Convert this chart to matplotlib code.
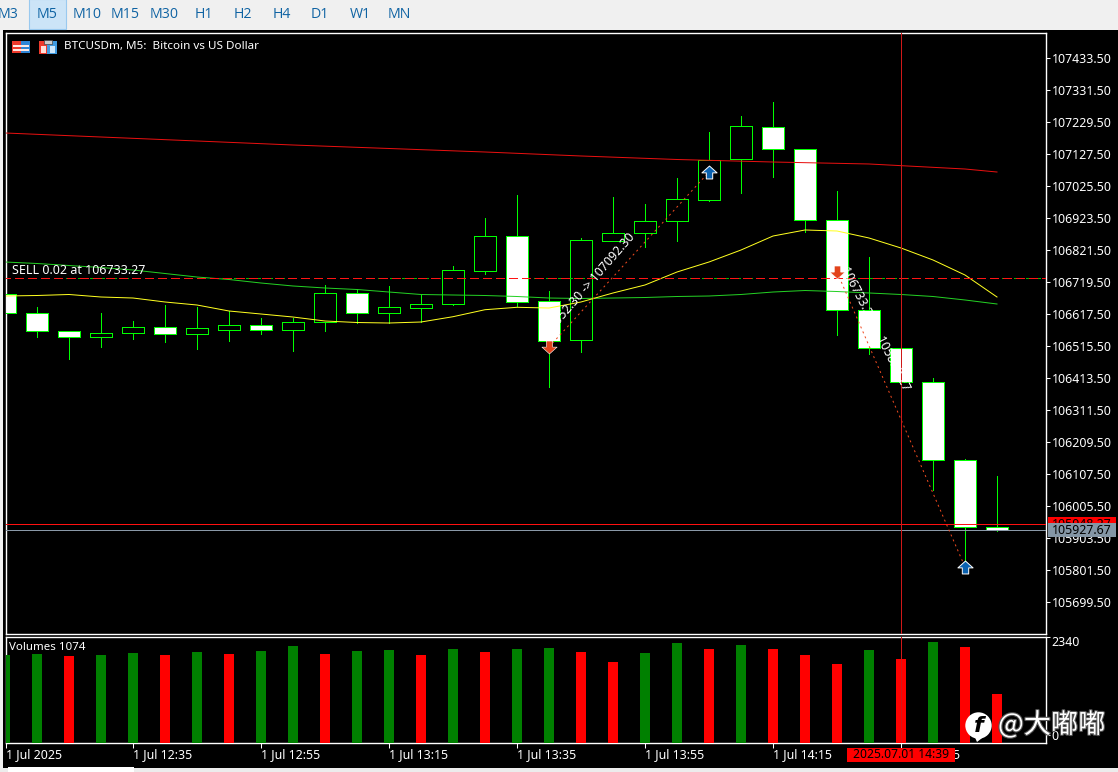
import matplotlib
matplotlib.use("Agg")
import matplotlib.pyplot as plt
from matplotlib.path import Path
from matplotlib.patches import Rectangle, Circle, Polygon
import matplotlib.patheffects as pe
import numpy as np

plt.rcParams['font.family'] = ['Noto Sans', 'DejaVu Sans']

# ---- data ----
opens = [106681.3, 106620.7, 106563.3, 106544.2, 106557.0, 106576.1, 106553.8, 106566.5,
         106582.5, 106566.5, 106592.0, 106684.5, 106620.7, 106636.6, 106649.4, 106754.6,
         106866.1, 106659.0, 106534.6, 106850.2, 106875.7, 106914.0, 106980.9, 107111.6,
         107213.6, 107143.5, 106917.1, 106630.3, 106509.1, 106400.8, 106152.1, 105938.6]
closes = [106620.7, 106563.3, 106544.2, 106557.0, 106576.1, 106553.8, 106572.9, 106582.5,
          106566.5, 106592.0, 106684.5, 106620.7, 106639.8, 106649.4, 106757.8, 106866.1,
          106655.8, 106531.4, 106853.4, 106875.7, 106914.0, 106984.1, 107108.4, 107216.8,
          107143.5, 106917.1, 106630.3, 106509.1, 106400.8, 106152.1, 105938.6, 105927.7]
highs = [106681.3, 106639.8, 106563.3, 106620.7, 106595.2, 106646.2, 106639.8, 106627.1,
         106604.8, 106604.8, 106710.0, 106697.2, 106706.8, 106678.1, 106770.5, 106923.5,
         106996.8, 106690.8, 106859.8, 106990.5, 106968.1, 107051.0, 107197.6, 107248.6,
         107293.3, 107143.5, 107009.6, 106799.2, 106509.1, 106413.5, 106155.4, 106101.1]
lows = [106620.7, 106544.2, 106474.1, 106512.4, 106537.8, 106528.3, 106506.0, 106531.4,
        106553.8, 106499.6, 106563.3, 106588.8, 106588.8, 106592.0, 106646.2, 106745.0,
        106643.0, 106384.8, 106496.4, 106850.2, 106831.1, 106850.2, 106977.7, 107003.2,
        107054.2, 106878.9, 106550.6, 106490.0, 106400.8, 106056.5, 105827.0, 105925.8]
volumes = [1943, 1965, 1921, 1943, 1987, 1943, 2009, 1965, 2031, 2142, 1965, 2031, 2053, 1943,
           2076, 2009, 2076, 2098, 2009, 1788, 1987, 2208, 2076, 2164, 2076, 1943, 1744, 2053,
           1855, 2230, 2120, 1074]
vol_colors = list("ggrggrgrggrggrgrggrrggrgrrrgrgrr")
ma_yellow = [106674.9, 106676.5, 106679.7, 106671.7, 106668.5, 106655.8, 106646.2, 106627.1,
             106617.5, 106607.9, 106595.2, 106590.4, 106588.8, 106592.0, 106608.9, 106631.2,
             106638.9, 106636.6, 106655.8, 106684.5, 106710.0, 106751.4, 106783.3, 106821.5,
             106866.1, 106885.3, 106882.1, 106859.8, 106827.9, 106789.7, 106741.8, 106671.7]
ma_green = [106783.3, 106778.5, 106772.1, 106765.7, 106757.8, 106746.6, 106735.4, 106727.5,
            106716.3, 106706.8, 106700.4, 106695.6, 106687.6, 106679.7, 106678.1, 106676.5,
            106673.3, 106668.5, 106666.9, 106668.5, 106670.1, 106673.3, 106674.9, 106679.7,
            106687.6, 106692.4, 106689.2, 106684.5, 106679.7, 106673.3, 106662.2, 106649.4]
ma_red_idx = [0, 3, 6, 9, 12, 15, 18, 21, 24, 27, 30, 31]
ma_red = [107194.5, 107181.7, 107169.0, 107156.2, 107145.1, 107133.9, 107121.2, 107110.0,
          107102.0, 107095.7, 107079.7, 107070.1]
price_ticks = [107433.5, 107331.5, 107229.5, 107127.5, 107025.5, 106923.5, 106821.5, 106719.5,
               106617.5, 106515.5, 106413.5, 106311.5, 106209.5, 106107.5, 106005.5, 105903.5,
               105801.5, 105699.5]
time_tick_idx = [0, 4, 8, 12, 16, 20, 24, 28]
time_labels = ["1 Jul 2025", "1 Jul 12:35", "1 Jul 12:55", "1 Jul 13:15", "1 Jul 13:35",
               "1 Jul 13:55", "1 Jul 14:15", "1 Jul 14:35"]
periods = ["M3", "M5", "M10", "M15", "M30", "H1", "H2", "H4", "D1", "W1", "MN"]
period_x = [8, 47, 87, 125, 164, 204, 243, 282, 320, 360, 399]
sell_price = 106733.27
bid_price = 105927.67
ask_price = 105946.6
trade1_idx = [17, 22]
trade1_price = [106512.4, 107070.1]
trade2_idx = [26, 30]
trade2_price = [106751.4, 105811.1]

W, H = 1118, 772
GREEN = "#00ff00"
FS = 8.9
THIN = 0.5
SLOPED = 0.72

fig = plt.figure(figsize=(W / 100, H / 100), dpi=100, facecolor="black")


def axpx(x0, y0, x1, y1, **kw):
    return fig.add_axes([x0 / W, 1 - y1 / H, (x1 - x0) / W, (y1 - y0) / H], **kw)


# chrome background
bg = axpx(0, 0, W, H, zorder=-1)
bg.set_xlim(0, W); bg.set_ylim(H, 0); bg.axis("off")
bg.add_patch(Rectangle((0, 0), W, 30, fc="#f0f0f0", ec="none"))
bg.add_patch(Rectangle((0, 0), 3, H, fc="#f0f0f0", ec="none"))
bg.add_patch(Rectangle((0, 768), W, 4, fc="#ececec", ec="none"))
bg.add_patch(Rectangle((8, 767), 126, 5, fc="white", ec="none"))
bg.add_patch(Rectangle((29, -1), 37, 29.5, fc="#cce4f7", ec="#99c9ef", lw=0.8))
for name, px in zip(periods, period_x):
    bg.text(px, 14, name, color="#0f63a3", fontsize=10.2, ha="center", va="center",
            family=["Open Sans", "DejaVu Sans"])

# panes
x_to_idx = lambda px: (px - 5) / 32
ax = axpx(5.5, 32.5, 1046, 634, facecolor="black")
vol = axpx(5.5, 637, 1046, 743, facecolor="black")
for a in (ax, vol):
    a.set_xlim(x_to_idx(5.5), x_to_idx(1046))
    for s in a.spines.values():
        s.set_color("white"); s.set_linewidth(1.0)
ax.set_ylim(107618.4 - 3.1875 * 634, 107618.4 - 3.1875 * 32.5)

idx = np.arange(len(opens))
opens_a, closes_a = np.array(opens), np.array(closes)
ax.vlines(idx, lows, highs, color=GREEN, lw=THIN, zorder=2, antialiased=False)
for i in idx:
    o, c = opens_a[i], closes_a[i]
    ax.bar(i, abs(c - o), bottom=min(o, c), width=0.6875,
           facecolor="white" if c < o else "black", edgecolor=GREEN, lw=THIN, zorder=3,
           antialiased=False)

# sloped lines stay antialiased: a one-pixel aliased diagonal comes out too heavy here
ax.plot(ma_red_idx, ma_red, color="#e81010", lw=SLOPED, zorder=4)
ax.plot(idx, ma_green, color="#24d024", lw=SLOPED, zorder=4)
ax.plot(idx, ma_yellow, color="#ffff20", lw=SLOPED, zorder=4)

# order lines
ax.axhline(sell_price, color="#00c000", lw=THIN, ls=(0, (4, 14)), zorder=4, antialiased=False)
ax.axhline(sell_price, color="#ff1414", lw=THIN, ls=(6, (12, 6)), zorder=4, antialiased=False)
ax.axhline(ask_price, color="#ff1010", lw=THIN, zorder=5, antialiased=False)
ax.axhline(bid_price, color="#8a99a8", lw=THIN, zorder=5, antialiased=False)
for a in (ax, vol):
    a.axvline(28, color="#d01818", lw=THIN, zorder=6, antialiased=False)

# trades
dot = (0, (2.0, 3.4))
ax.plot(trade1_idx, trade1_price, color="#f04a20", lw=SLOPED, ls=dot, zorder=5)
ax.plot(trade2_idx, trade2_price, color="#f04a20", lw=SLOPED, ls=dot, zorder=5)
down = Path([(-1, .05), (-.42, .05), (-.42, .85), (.42, .85), (.42, .05), (1, .05), (0, -.85), (-1, .05)], closed=True)
up = Path([(-1, -.05), (-.42, -.05), (-.42, -.85), (.42, -.85), (.42, -.05), (1, -.05), (0, .85), (-1, -.05)], closed=True)
ax.scatter([trade1_idx[0], trade2_idx[0]], [trade1_price[0], trade2_price[0]], marker=down, s=120,
           c="#e2431c", edgecolors="white", linewidths=0.4, zorder=7)
ax.scatter([trade1_idx[1], trade2_idx[1]], [trade1_price[1], trade2_price[1]], marker=up, s=120,
           c="#0b62b0", edgecolors="white", linewidths=0.7, zorder=7)
ax.text(x_to_idx(545), 107618.4 - 3.1875 * 341, "106552.30 -> 107092.30", color="white", fontsize=FS,
        rotation=49, rotation_mode="anchor", ha="left", va="baseline", zorder=6)
ax.text(x_to_idx(841), 107618.4 - 3.1875 * 269, "106733.27 -> 105830.27", color="white", fontsize=FS,
        rotation=-63, rotation_mode="anchor", ha="left", va="baseline", zorder=6)

ax.set_xticks([])
ax.yaxis.tick_right()
ax.set_yticks(price_ticks)
ax.set_yticklabels([f"{p:.2f}" for p in price_ticks], color="white", fontsize=FS)
ax.tick_params(axis="y", colors="white", length=3, width=0.75, pad=1)

# volumes
vol.bar(idx, volumes, width=10 / 32, color=["#008000" if c == "g" else "#ff0000" for c in vol_colors], zorder=3)
vol.set_ylim(0, 2340)
vol.yaxis.tick_right()
vol.set_yticks([2340, 177])
vol.set_yticklabels(["", "0"], color="white", fontsize=FS)
vol.tick_params(axis="y", colors="white", length=3, width=0.75, pad=1)
vol.set_xticks(time_tick_idx)
vol.set_xticklabels(time_labels, color="white", fontsize=FS, ha="left")
vol.tick_params(axis="x", colors="white", length=3.6, width=0.75, pad=0.3)

# overlay with labels, boxes and watermark
ov = axpx(0, 0, W, H, zorder=10)
ov.set_xlim(0, W); ov.set_ylim(H, 0); ov.axis("off"); ov.patch.set_alpha(0)
ov.text(1051, 643, "2340", color="white", fontsize=FS, ha="left", va="center")
ov.text(12, 271, f"SELL 0.02 at {sell_price:.2f}", color="white", fontsize=9.0, ha="left", va="center")
ov.text(64, 47, "BTCUSDm, M5:  Bitcoin vs US Dollar", color="white", fontsize=8.4, ha="left", va="center")
ov.text(9, 648, "Volumes 1074", color="white", fontsize=8.3, ha="left", va="center")

# title icons
ov.add_patch(Rectangle((12, 41), 9, 12, fc="#ee3a2c", ec="none"))
ov.add_patch(Rectangle((21, 41), 9, 12, fc="#2f86d6", ec="none"))
for yy in (44.5, 48.5):
    ov.add_patch(Rectangle((13, yy), 16, 2.5, fc="#ffe9e4", ec="none"))
ov.add_patch(Rectangle((38.5, 40.5), 8.5, 13, fc="#ee3a2c", ec="none"))
ov.add_patch(Rectangle((47, 40.5), 10, 13, fc="#3f9be0", ec="none"))
ov.add_patch(Rectangle((41, 46), 5, 7, fc="#ffe0da", ec="none"))
ov.add_patch(Rectangle((50, 46), 5, 7, fc="#cfe8fb", ec="none"))
ov.add_patch(Rectangle((44, 40), 8, 4, fc="#cccccc", ec="#444444", lw=0.5))

# price boxes
ov.add_patch(Rectangle((1048, 517), 68, 7, fc="#ff0000", ec="none"))
ov.text(1082, 525, f"{ask_price + 1.67:.2f}", color="black", fontsize=FS, ha="center", va="center", zorder=3,
        clip_on=True, clip_path=Rectangle((1048, 517), 68, 6.5, transform=ov.transData))
ov.add_patch(Rectangle((1048, 523), 68, 14, fc="#8496a5", ec="none", zorder=4))
ov.text(1082, 530, f"{bid_price:.2f}", color="black", fontsize=FS, ha="center", va="center", zorder=5)

# crosshair time box
ov.add_patch(Rectangle((847, 748), 108, 14, fc="#ff0000", ec="none"))
ov.text(901, 755, "2025.07.01 14:39", color="black", fontsize=8.7, ha="center", va="center")

# watermark
ov.add_patch(Polygon([(973, 733), (977, 742), (986, 735)], closed=True, fc="white", ec="none"))
ov.add_patch(Circle((978.5, 725.5), 13.2, fc="white", ec="none"))
ov.text(979, 726, "f", color="black", fontsize=16, fontweight="bold", style="italic", ha="center", va="center",
        family=["DejaVu Sans"])
ov.text(998, 725, "@大嘟嘟", color="white", fontsize=19.6, ha="left", va="center",
        family=["Noto Sans CJK SC", "DejaVu Sans"],
        path_effects=[pe.withStroke(linewidth=1.6, foreground="#555555")])

fig.savefig("out.png", dpi=100, facecolor=fig.get_facecolor())
